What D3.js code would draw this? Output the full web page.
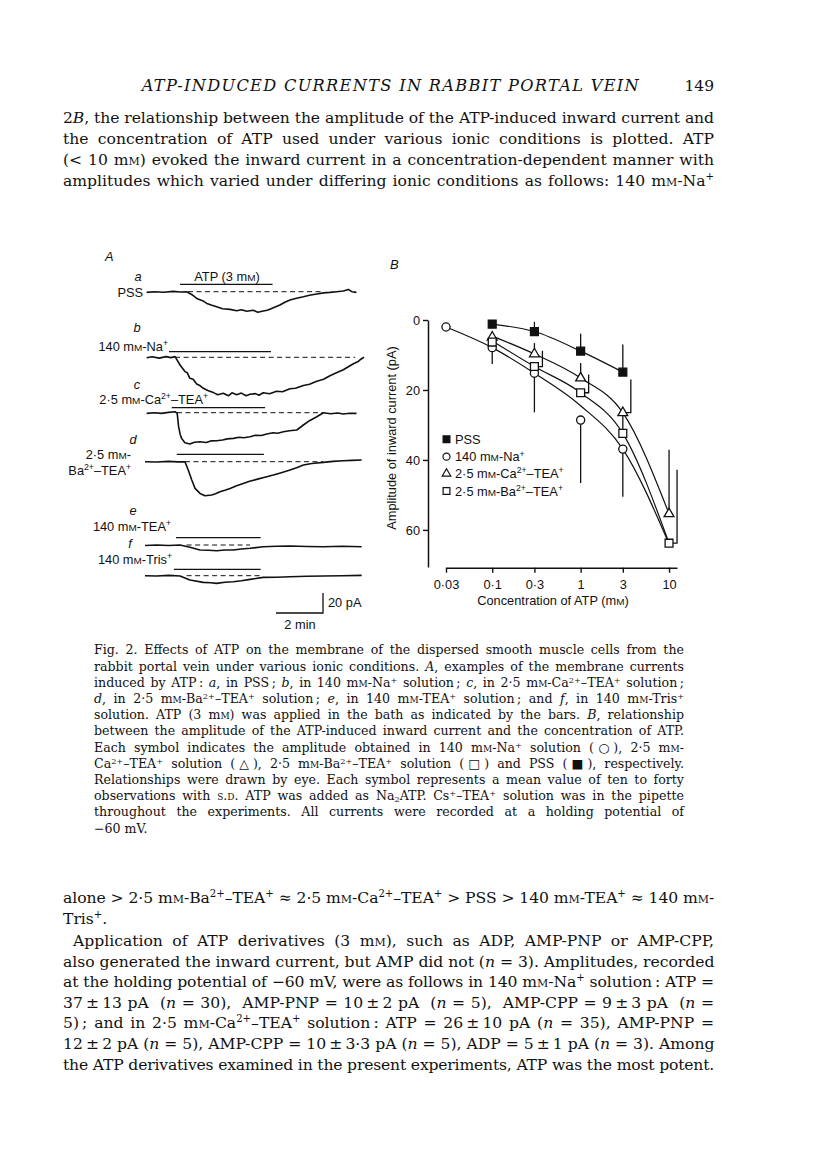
<!DOCTYPE html>
<html>
<head>
<meta charset="utf-8">
<script src="https://d3js.org/d3.v7.min.js"></script>
<style>
  body { margin: 0; background: #fff; }
  #page { position: relative; width: 816px; height: 1160px; overflow: hidden; }
  #page svg { position: absolute; left: 0; top: 0; }
  .ln { position: absolute; white-space: nowrap; font-family: "DejaVu Serif", serif; color: #111;
        text-align: justify; text-align-last: justify; }
  .ln.last { text-align: left; text-align-last: left; }
  .sc { font-variant: small-caps; }
  .ln sup { font-size: 65%; line-height: 0; vertical-align: 0.55em; }
  .ln sub { font-size: 65%; line-height: 0; vertical-align: -0.3em; }
</style>
</head>
<body>
<div id="page"></div>
<script>
// ---------- panel B data: ATP concentration (mM) vs amplitude of inward current (pA)
var concTicks = [0.03, 0.1, 0.3, 1, 3, 10];
var ampTicks = [0, 20, 40, 60];

var pssConc = [0.1, 0.3, 1, 3];
var pssAmp  = [1.2, 3.3, 8.9, 14.9];
var pssSD   = [0, 2.8, 5.0, 7.9];
var pssSide = [0, 0, 0, 0];

var naConc = [0.03, 0.1, 0.3, 1, 3];
var naAmp  = [2.0, 7.9, 15.2, 28.6, 36.9];
var naSD   = [0, 4.7, 11.2, 18.0, 13.6];
var naSide = [0, 0, 0, 0, 0];

var caConc = [0.1, 0.3, 1, 3, 10];
var caAmp  = [4.9, 9.7, 16.6, 26.5, 55.4];
var caSD   = [1.2, 3.1, 4.3, 9.5, 18.3];
var caSide = [0, 0, 0, 1, 0];

var baConc = [0.1, 0.3, 1, 3, 10];
var baAmp  = [6.3, 13.3, 20.8, 32.4, 63.8];
var baSD   = [0, 4.5, 5.2, 5.9, 21.0];
var baSide = [0, 1, 1, 0, 1];

// relationships drawn by eye
var pssCurveConc = [0.1, 0.3, 1, 3];
var pssCurveAmp  = [1.2, 3.3, 8.9, 14.9];
var naCurveConc  = [0.03, 0.1, 0.3, 1, 3, 10];
var naCurveAmp   = [2.0, 7.9, 15.2, 24.5, 36.9, 64.0];
var caCurveConc  = [0.1, 0.3, 1, 3, 10];
var caCurveAmp   = [4.6, 9.7, 16.6, 26.5, 55.4];
var baCurveConc  = [0.1, 0.3, 1, 3, 10];
var baCurveAmp   = [6.0, 13.3, 20.8, 32.4, 63.8];

// ---------- panel A data: [time (min), inward current (pA)]
var traceA = [[0.07,0.7],[0.4,0],[0.8,0.5],[1.2,-0.3],[1.5,0.3],[1.77,0],[2.0,3],[2.2,6.7],[2.45,9],[2.63,11.7],[2.85,13.5],[3.05,15],[3.3,17],[3.62,17.7],[3.9,19],[4.1,18],[4.33,19.5],[4.6,18.5],[4.8,20.5],[5.03,19.3],[5.2,18.5],[5.39,16.7],[5.74,13.3],[5.95,10.5],[6.17,8.3],[6.45,6.5],[6.74,5],[7.0,3.5],[7.31,2.3],[7.6,1.2],[7.87,0.7],[8.15,0],[8.44,-0.7],[8.65,-2.3],[8.8,0],[9.0,0.7]];
var traceB = [[0.07,0.5],[0.3,-0.5],[0.6,0.8],[0.9,-0.7],[1.1,0.3],[1.28,-0.7],[1.49,7.7],[1.7,14.3],[1.8,15.5],[1.91,21],[2.05,22],[2.2,26.7],[2.35,28.5],[2.48,31],[2.7,33.5],[2.91,35.3],[3.1,37.5],[3.33,36],[3.55,38.5],[3.7,35.5],[3.9,37.5],[4.1,35.8],[4.3,38.5],[4.47,37],[4.7,36.3],[4.85,38],[5.03,35.5],[5.3,36.5],[5.6,34],[5.85,34.5],[6.17,31.5],[6.4,31],[6.74,28.2],[7.0,27],[7.31,24],[7.6,22],[7.87,18.5],[8.1,16],[8.44,12.5],[8.65,9.5],[8.87,6.5],[9.05,4.5],[9.15,2.5],[9.32,0]];
var traceC = [[0.07,0.7],[0.4,0],[0.7,0.7],[1.0,-0.3],[1.28,-1],[1.37,0.7],[1.43,14],[1.5,22],[1.56,25.7],[1.7,30],[1.91,31.3],[2.1,29.5],[2.34,29],[2.6,29.8],[2.8,28.2],[3.05,28],[3.3,27.3],[3.5,26.2],[3.76,25.7],[4.0,24.5],[4.2,25],[4.47,24],[4.7,22.5],[4.95,22.8],[5.18,21.3],[5.45,20],[5.65,20.5],[5.89,19],[6.15,18],[6.46,17.3],[6.74,12.3],[7.0,8],[7.31,4],[7.59,0],[7.9,1],[8.2,0.3],[8.44,1.3],[8.7,0.5],[9.0,0.7]];
var traceD = [[0,0],[0.5,0.3],[1.0,-0.3],[1.4,0.2],[1.7,0],[1.84,8.3],[1.99,18.3],[2.13,26.7],[2.34,31.7],[2.55,34],[2.84,33.3],[3.0,32],[3.19,30],[3.4,28.5],[3.62,26.7],[3.9,24],[4.18,21.7],[4.45,19.5],[4.75,17.7],[5.1,15.5],[5.46,13.3],[5.8,11],[6.17,8.3],[6.45,6],[6.74,3.3],[7.1,1.8],[7.59,0.7],[8.0,-0.3],[8.44,-1],[8.8,-1.3],[9.22,-1.7]];
var traceE = [[0,0.5],[0.5,0],[1.0,0.5],[1.49,0],[1.91,2.3],[2.34,5],[2.7,5.2],[3.05,5.7],[3.4,5],[3.76,5],[4.1,4],[4.47,3.3],[5.03,1.7],[5.6,1.2],[6.17,1],[6.9,1.5],[7.59,1.7],[8.4,1.2],[9.22,1.7]];
var traceF = [[0,0],[0.5,0.3],[1.0,-0.3],[1.49,0.3],[1.91,4.3],[2.48,6.7],[2.8,7],[3.05,7.7],[3.4,6.5],[3.76,6],[4.1,5],[4.47,3.7],[5.03,1.7],[5.6,1.5],[6.17,1],[6.9,0.5],[7.59,0.3],[8.4,0],[9.22,-0.3]];

// ATP application bars and dashed baselines, [start, end] in min
var atpBars  = [[1.49,5.43],[1.02,5.36],[1.14,5.11],[1.35,5.06],[1.32,4.92],[1.23,4.92]];
var dashRuns = [[1.83,7.57],[1.28,8.94],[1.36,7.57],[1.70,7.57],[1.77,4.47],[1.77,4.89]];

// ---------- page text
var headerTitle = "ATP-INDUCED CURRENTS IN RABBIT PORTAL VEIN";
var pageNumber = "149";
var topLines = [
  "2[B], the relationship between the amplitude of the ATP-induced inward current and",
  "the concentration of ATP used under various ionic conditions is plotted. ATP",
  "(&lt; 10 m{m}) evoked the inward current in a concentration-dependent manner with",
  "amplitudes which varied under differing ionic conditions as follows: 140 m{m}-Na^{+}"
];
var captionLines = [
  "Fig. 2. Effects of ATP on the membrane of the dispersed smooth muscle cells from the",
  "rabbit portal vein under various ionic conditions. [A], examples of the membrane currents",
  "induced by ATP\u2009: [a], in PSS\u2009; [b], in 140 m{m}-Na^{+} solution\u2009; [c], in 2\u00b75 m{m}-Ca^{2+}\u2013TEA^{+} solution\u2009;",
  "[d], in 2\u00b75 m{m}-Ba^{2+}\u2013TEA^{+} solution\u2009; [e], in 140 m{m}-TEA^{+} solution\u2009; and [f], in 140 m{m}-Tris^{+}",
  "solution. ATP (3 m{m}) was applied in the bath as indicated by the bars. [B], relationship",
  "between the amplitude of the ATP-induced inward current and the concentration of ATP.",
  "Each symbol indicates the amplitude obtained in 140 m{m}-Na^{+} solution (\u25cb), 2\u00b75 m{m}-",
  "Ca^{2+}\u2013TEA^{+} solution (\u25b3), 2\u00b75 m{m}-Ba^{2+}\u2013TEA^{+} solution (\u25a1) and PSS (\u25a0), respectively.",
  "Relationships were drawn by eye. Each symbol represents a mean value of ten to forty",
  "observations with {s.d.} ATP was added as Na_{2}ATP. Cs^{+}\u2013TEA^{+} solution was in the pipette",
  "throughout the experiments. All currents were recorded at a holding potential of",
  "\u221260 mV."
];
var bottomLines = [
  "alone &gt; 2\u00b75 m{m}-Ba^{2+}\u2013TEA^{+} \u2248 2\u00b75 m{m}-Ca^{2+}\u2013TEA^{+} &gt; PSS &gt; 140 m{m}-TEA^{+} \u2248 140 m{m}-",
  "Tris^{+}.",
  "Application of ATP derivatives (3 m{m}), such as ADP, AMP-PNP or AMP-CPP,",
  "also generated the inward current, but AMP did not ([n] = 3). Amplitudes, recorded",
  "at the holding potential of \u221260 mV, were as follows in 140 m{m}-Na^{+} solution\u2009: ATP =",
  "37\u2009\u00b1\u200913 pA &nbsp;([n] = 30), &nbsp;AMP-PNP = 10\u2009\u00b1\u20092 pA &nbsp;([n] = 5), &nbsp;AMP-CPP = 9\u2009\u00b1\u20093 pA &nbsp;([n] =",
  "5)\u2009; and in 2\u00b75 m{m}-Ca^{2+}\u2013TEA^{+} solution\u2009: ATP = 26\u2009\u00b1\u200910 pA ([n] = 35), AMP-PNP =",
  "12\u2009\u00b1\u20092 pA ([n] = 5), AMP-CPP = 10\u2009\u00b1\u20093\u00b73 pA ([n] = 5), ADP = 5\u2009\u00b1\u20091 pA ([n] = 3). Among",
  "the ATP derivatives examined in the present experiments, ATP was the most potent."
];

var page = d3.select("#page");
var svg = page.append("svg").attr("width", 816).attr("height", 1160);

var sans = "Liberation Sans, Arial, sans-serif";
var ink = "#111";

// markup: [x] italic, {x} small capital, ^{x} superscript, _{x} subscript
function toHtml(s) {
  return s.replace(/\^\{([^}]*)\}/g, "<sup>$1</sup>")
          .replace(/_\{([^}]*)\}/g, "<sub>$1</sub>")
          .replace(/\{([^}]*)\}/g, '<span class="sc">$1</span>')
          .replace(/\[([^\]]*)\]/g, "<i>$1</i>");
}

function rich(sel, str, fs) {
  var parts = str.split(/(\^\{[^}]*\}|\{[^}]*\}|\[[^\]]*\])/);
  var raised = 0;
  parts.forEach(function (p) {
    if (!p) return;
    var t = sel.append("tspan");
    var lift = 0;
    if (p.indexOf("^{") === 0) {
      t.text(p.slice(2, -1)).attr("font-size", fs * 0.68);
      lift = -0.36 * fs;
    } else if (p[0] === "{") {
      t.text(p.slice(1, -1).toUpperCase()).attr("font-size", fs * 0.78);
    } else if (p[0] === "[") {
      t.text(p.slice(1, -1)).attr("font-style", "italic");
    } else {
      t.text(p);
    }
    if (lift !== raised) { t.attr("dy", lift - raised); raised = lift; }
  });
}

// justified text lines as HTML
function textLines(lines, opt) {
  lines.forEach(function (s, i) {
    var lh = opt.fs * 1.3;
    var base = opt.baselines[i];
    var left = (opt.indent && opt.indent[i]) ? opt.left + opt.indent[i] : opt.left;
    var w = opt.right - left;
    var div = page.append("div")
      .attr("class", "ln" + (opt.last && opt.last.indexOf(i) >= 0 ? " last" : ""))
      .style("left", left + "px")
      .style("width", w + "px")
      .style("font-size", opt.fs + "px")
      .style("line-height", lh + "px")
      .style("height", lh + "px")
      .style("top", (base - (lh / 2 + 0.346 * opt.fs)) + "px")
      .html(toHtml(s));
    var node = div.node();
    if (node.scrollWidth > w + 0.5) {
      var n = node.textContent.length;
      div.style("letter-spacing", ((w - node.scrollWidth) / n) + "px");
    }
  });
}

// ---------- running head
svg.append("text")
  .attr("x", 141.7).attr("y", 90.7)
  .attr("font-family", "DejaVu Serif").attr("font-style", "italic").attr("font-size", 16.2)
  .attr("fill", ink)
  .attr("textLength", 497).attr("lengthAdjust", "spacing")
  .text(headerTitle);
svg.append("text")
  .attr("x", 714).attr("y", 90.7).attr("text-anchor", "end")
  .attr("font-family", "DejaVu Serif").attr("font-size", 15.5).attr("fill", ink)
  .text(pageNumber);

textLines(topLines, { fs: 15.6, left: 63, right: 714,
  baselines: d3.range(topLines.length).map(function (i) { return 124 + i * 20.7; }) });

textLines(captionLines, { fs: 12.6, left: 94, right: 684, last: [11],
  baselines: d3.range(captionLines.length).map(function (i) { return 655 + i * 16.2; }) });

textLines(bottomLines, { fs: 15.6, left: 63, right: 714, last: [1], indent: [0, 0, 10],
  baselines: bottomLines.map(function (d, i) { return i < 2 ? 904 + i * 20.5 : 946.5 + (i - 2) * 20.6; }) });

// ---------- panel A: current traces
var tx = d3.scaleLinear().domain([0, 2]).range([145, 192]);      // 2 min = 47 px
var pA = d3.scaleLinear().domain([0, 20]).range([0, 20]);        // 20 pA = 20 px

var rowBase = [291.7, 357.3, 412.7, 461.7, 545, 575.7];
var rowBarGap = [7.4, 5.6, 5, 7.4, 7.3, 6.4];
var traces = [traceA, traceB, traceC, traceD, traceE, traceF];

var gA = svg.append("g");
traces.forEach(function (tr, i) {
  var base = rowBase[i];
  var line = d3.line()
    .x(function (d) { return tx(d[0]); })
    .y(function (d) { return base + pA(d[1]); });
  gA.append("line")
    .attr("x1", tx(dashRuns[i][0])).attr("x2", tx(dashRuns[i][1]))
    .attr("y1", base).attr("y2", base)
    .attr("stroke", ink).attr("stroke-width", 1).attr("stroke-dasharray", "5,3.5");
  gA.append("path")
    .attr("d", line(tr))
    .attr("fill", "none").attr("stroke", ink)
    .attr("stroke-width", 1.6).attr("stroke-linejoin", "round");
  gA.append("line")
    .attr("x1", tx(atpBars[i][0])).attr("x2", tx(atpBars[i][1]))
    .attr("y1", base - rowBarGap[i]).attr("y2", base - rowBarGap[i])
    .attr("stroke", ink).attr("stroke-width", 1.2);
});

// scale bars
var sbX = 323, sbY = 613;
gA.append("path")
  .attr("d", "M" + (sbX - (tx(2) - tx(0))) + "," + sbY + "H" + sbX + "V" + (sbY - (pA(20) - pA(0))))
  .attr("fill", "none").attr("stroke", ink).attr("stroke-width", 1.3);

var labelsA = [
  { t: "[A]", x: 105, y: 261, a: "start" },
  { t: "[a]", x: 138, y: 281, a: "middle" },
  { t: "ATP (3 m{m})", x: 227, y: 281, a: "middle" },
  { t: "PSS", x: 143, y: 297, a: "end" },
  { t: "[b]", x: 137, y: 332, a: "middle" },
  { t: "140 m{m}-Na^{+}", x: 168, y: 351, a: "end" },
  { t: "[c]", x: 137, y: 389, a: "middle" },
  { t: "2\u00b75 m{m}-Ca^{2+}\u2013TEA^{+}", x: 208, y: 404, a: "end" },
  { t: "[d]", x: 133, y: 444, a: "middle" },
  { t: "2\u00b75 m{m}-", x: 131, y: 459, a: "end" },
  { t: "Ba^{2+}\u2013TEA^{+}", x: 131, y: 475, a: "end" },
  { t: "[e]", x: 133, y: 515, a: "middle" },
  { t: "140 m{m}-TEA^{+}", x: 171, y: 531, a: "end" },
  { t: "[f]", x: 130, y: 548, a: "middle" },
  { t: "140 m{m}-Tris^{+}", x: 172, y: 564, a: "end" },
  { t: "20 pA", x: 328, y: 607, a: "start" },
  { t: "2 min", x: 300, y: 629, a: "middle" }
];
labelsA.forEach(function (l) {
  var t = svg.append("text").attr("x", l.x).attr("y", l.y)
    .attr("text-anchor", l.a).attr("font-family", sans).attr("font-size", 12.8).attr("fill", ink);
  rich(t, l.t, 12.8);
});

// ---------- panel B: concentration-response
var x = d3.scaleLog().domain([0.03, 12.3]).range([446, 677]);
var y = d3.scaleLinear().domain([0, 70.6]).range([320, 567]);

function fmtConc(d) { return String(d).replace(".", "\u00b7"); }

var gx = svg.append("g").attr("transform", "translate(0,567.7)")
  .call(d3.axisBottom(x).tickValues(concTicks).tickFormat(fmtConc).tickSize(5).tickSizeOuter(0).tickPadding(7));
var gy = svg.append("g").attr("transform", "translate(428,0)")
  .call(d3.axisLeft(y).tickValues(ampTicks).tickSize(5).tickSizeOuter(0).tickPadding(3));
[gx, gy].forEach(function (g) {
  g.attr("font-family", sans).attr("font-size", 12.8);
  g.selectAll("path.domain").attr("stroke", ink).attr("stroke-width", 1.5);
  g.selectAll(".tick line").attr("stroke", ink).attr("stroke-width", 1.4);
  g.selectAll(".tick text").attr("fill", ink);
});

svg.append("text").attr("x", 553).attr("y", 605).attr("text-anchor", "middle")
  .attr("font-family", sans).attr("font-size", 12.8).attr("fill", ink)
  .call(rich, "Concentration of ATP (m{m})", 12.8);
svg.append("text").attr("transform", "translate(396,438) rotate(-90)").attr("text-anchor", "middle")
  .attr("font-family", sans).attr("font-size", 12.8).attr("fill", ink)
  .text("Amplitude of inward current (pA)");
svg.append("text").attr("x", 390).attr("y", 269)
  .attr("font-family", sans).attr("font-size", 13).attr("font-style", "italic").attr("fill", ink)
  .text("B");

function zipPts(c, a) { return c.map(function (v, i) { return [v, a[i]]; }); }

var series = [
  { label: "PSS", conc: pssConc, amp: pssAmp, sd: pssSD, side: pssSide, dir: -1,
    curve: zipPts(pssCurveConc, pssCurveAmp), shape: d3.symbolSquare, size: 62, fill: ink },
  { label: "140 m{m}-Na^{+}", conc: naConc, amp: naAmp, sd: naSD, side: naSide, dir: 1,
    curve: zipPts(naCurveConc, naCurveAmp), shape: d3.symbolCircle, size: 52, fill: "#fff" },
  { label: "2\u00b75 m{m}-Ca^{2+}\u2013TEA^{+}", conc: caConc, amp: caAmp, sd: caSD, side: caSide, dir: -1,
    curve: zipPts(caCurveConc, caCurveAmp), shape: d3.symbolTriangle, size: 42, fill: "#fff" },
  { label: "2\u00b75 m{m}-Ba^{2+}\u2013TEA^{+}", conc: baConc, amp: baAmp, sd: baSD, side: baSide, dir: -1,
    curve: zipPts(baCurveConc, baCurveAmp), shape: d3.symbolSquare, size: 62, fill: "#fff" }
];

var curveLine = d3.line()
  .x(function (d) { return x(d[0]); })
  .y(function (d) { return y(d[1]); })
  .curve(d3.curveMonotoneX);

var gB = svg.append("g");
series.forEach(function (s) {
  gB.append("path").attr("d", curveLine(s.curve))
    .attr("fill", "none").attr("stroke", ink).attr("stroke-width", 1.2);
});
series.forEach(function (s) {
  s.conc.forEach(function (c, i) {
    if (!s.sd[i]) return;
    var px = x(c), py = y(s.amp[i]), pe = y(s.amp[i] + s.dir * s.sd[i]);
    var d = s.side[i] ? "M" + px + "," + py + "H" + (px + 8) + "V" + pe : "M" + px + "," + py + "V" + pe;
    gB.append("path").attr("d", d).attr("fill", "none").attr("stroke", ink).attr("stroke-width", 1.3);
  });
});
series.forEach(function (s) {
  var sym = d3.symbol().type(s.shape).size(s.size);
  gB.selectAll(null).data(zipPts(s.conc, s.amp)).enter().append("path")
    .attr("d", sym)
    .attr("transform", function (d) { return "translate(" + x(d[0]) + "," + y(d[1]) + ")"; })
    .attr("fill", s.fill).attr("stroke", ink).attr("stroke-width", 1.3);
});

// legend
var legY = [439.3, 456.7, 473.6, 491];
series.forEach(function (s, i) {
  var sym = d3.symbol().type(s.shape).size(s.size * 0.75);
  svg.append("path").attr("d", sym)
    .attr("transform", "translate(446.5," + legY[i] + ")")
    .attr("fill", s.fill).attr("stroke", ink).attr("stroke-width", 1.2);
  var t = svg.append("text").attr("x", 455).attr("y", legY[i] + 4.5)
    .attr("font-family", sans).attr("font-size", 12.8).attr("fill", ink);
  rich(t, s.label, 12.8);
});
</script>
</body>
</html>
